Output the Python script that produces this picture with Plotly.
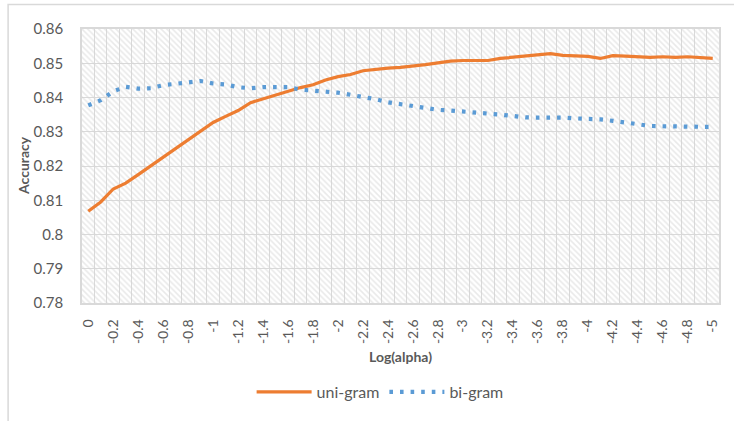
import plotly.graph_objects as go

log_alpha = [0, -0.1, -0.2, -0.3, -0.4, -0.5, -0.6, -0.7, -0.8, -0.9,
             -1.0, -1.1, -1.2, -1.3, -1.4, -1.5, -1.6, -1.7, -1.8, -1.9,
             -2.0, -2.1, -2.2, -2.3, -2.4, -2.5, -2.6, -2.7, -2.8, -2.9,
             -3.0, -3.1, -3.2, -3.3, -3.4, -3.5, -3.6, -3.7, -3.8, -3.9,
             -4.0, -4.1, -4.2, -4.3, -4.4, -4.5, -4.6, -4.7, -4.8, -4.9, -5.0]

uni_gram = [0.8068, 0.8095, 0.8133, 0.8150, 0.8175, 0.8200, 0.8225, 0.8250, 0.8275, 0.8302,
            0.8327, 0.8345, 0.8362, 0.8385, 0.8396, 0.8408, 0.8420, 0.8429, 0.8437, 0.8451,
            0.8461, 0.8467, 0.8478, 0.8483, 0.8486, 0.8488, 0.8491, 0.8496, 0.8501, 0.8506,
            0.8508, 0.8508, 0.8508, 0.8514, 0.8517, 0.8520, 0.8524, 0.8528, 0.8523, 0.8521,
            0.8520, 0.8514, 0.8522, 0.8521, 0.8519, 0.8517, 0.8519, 0.8517, 0.8519, 0.8517, 0.8514]

bi_gram = [0.8377, 0.8392, 0.8418, 0.8431, 0.8426, 0.8427, 0.8436, 0.8441, 0.8445, 0.8448,
           0.8441, 0.8438, 0.8430, 0.8427, 0.8430, 0.8430, 0.8430, 0.8423, 0.8420, 0.8419,
           0.8414, 0.8408, 0.8402, 0.8395, 0.8386, 0.8380, 0.8375, 0.8368, 0.8364, 0.8362,
           0.8360, 0.8357, 0.8353, 0.8350, 0.8345, 0.8342, 0.8341, 0.8342, 0.8341, 0.8339,
           0.8338, 0.8336, 0.8332, 0.8326, 0.8320, 0.8317, 0.8316, 0.8315, 0.8314, 0.8314, 0.8314]

x_tick_values = [0, -0.2, -0.4, -0.6, -0.8, -1.0, -1.2, -1.4, -1.6, -1.8, -2.0, -2.2, -2.4,
                 -2.6, -2.8, -3.0, -3.2, -3.4, -3.6, -3.8, -4.0, -4.2, -4.4, -4.6, -4.8, -5.0]
x_tick_labels = ["0", "-0.2", "-0.4", "-0.6", "-0.8", "-1", "-1.2", "-1.4", "-1.6", "-1.8", "-2",
                 "-2.2", "-2.4", "-2.6", "-2.8", "-3", "-3.2", "-3.4", "-3.6", "-3.8", "-4",
                 "-4.2", "-4.4", "-4.6", "-4.8", "-5"]
y_tick_values = [0.78, 0.79, 0.80, 0.81, 0.82, 0.83, 0.84, 0.85, 0.86]
y_tick_labels = ["0.78", "0.79", "0.8", "0.81", "0.82", "0.83", "0.84", "0.85", "0.86"]

FONT = "Lato, 'Open Sans', sans-serif"
TXT = "#595959"
GRID = "#d9d9d9"

x_lo, x_hi = 0.05, -5.05
y_lo, y_hi = 0.78, 0.86

fig = go.Figure()

# hatched plot-area background
fig.add_trace(go.Scatter(
    x=[x_lo, x_hi, x_hi, x_lo, x_lo], y=[y_lo, y_lo, y_hi, y_hi, y_lo],
    mode="none", fill="toself", fillcolor="rgba(0,0,0,0)",
    fillpattern=dict(shape="\\", size=4, solidity=0.4, fgcolor="#d4d4d4",
                     bgcolor="rgba(0,0,0,0)"),
    showlegend=False, hoverinfo="skip"))

fig.add_trace(go.Scatter(
    x=log_alpha, y=uni_gram, name="uni-gram", mode="lines",
    line=dict(color="#ED7D31", width=3.2)))
fig.add_trace(go.Scatter(
    x=log_alpha, y=bi_gram, name="bi-gram", mode="lines",
    line=dict(color="#5B9BD5", width=4.2, dash="3.6px,7px")))

fig.update_layout(
    width=734, height=421,
    margin=dict(l=82, r=15, t=29, b=118, autoexpand=False),
    paper_bgcolor="white", plot_bgcolor="white",
    font=dict(family=FONT, color=TXT),
    showlegend=True,
    legend=dict(orientation="h", x=0.468, xanchor="center", y=-0.325, yanchor="middle",
                itemwidth=55, font=dict(size=16, color=TXT, family=FONT),
                bgcolor="rgba(0,0,0,0)"),
    xaxis=dict(range=[x_lo, x_hi], tickmode="array", tickvals=x_tick_values,
               ticktext=x_tick_labels, tickangle=-90, showgrid=False, zeroline=False,
               tickfont=dict(size=14, color=TXT, family=FONT), ticks="",
               ticklabelstandoff=9, automargin=False,
               showline=True, mirror=True, linecolor=GRID, linewidth=1.5,
               minor=dict(tickmode="linear", tick0=0.05, dtick=0.1, showgrid=True,
                          gridcolor=GRID, gridwidth=1.2, ticks="")),
    yaxis=dict(range=[y_lo, y_hi], tickmode="array", tickvals=y_tick_values,
               ticktext=y_tick_labels, showgrid=True, gridcolor=GRID, gridwidth=1.2,
               zeroline=False, ticks="", ticklabelstandoff=14, automargin=False,
               tickfont=dict(size=15, color=TXT, family=FONT),
               showline=True, mirror=True, linecolor=GRID, linewidth=1.5),
    annotations=[
        dict(text="<b>Log(alpha)</b>", xref="paper", yref="paper", x=0.5, y=-0.195,
             xanchor="center", yanchor="middle", showarrow=False,
             font=dict(size=14, color=TXT, family=FONT)),
        dict(text="<b>Accuracy</b>", xref="paper", yref="paper", x=-0.0926, y=0.5,
             xanchor="center", yanchor="middle", textangle=-90, showarrow=False,
             font=dict(size=14, color=TXT, family=FONT)),
    ],
    shapes=[dict(type="rect", xref="paper", yref="paper", x0=-0.116, x1=1.3,
                 y0=-0.6, y1=1.089, line=dict(color=GRID, width=1.5),
                 fillcolor="rgba(0,0,0,0)", layer="below")],
)

fig.write_html("out.html", config={"displayModeBar": False},
               post_script="document.body.style.margin='0px';")
